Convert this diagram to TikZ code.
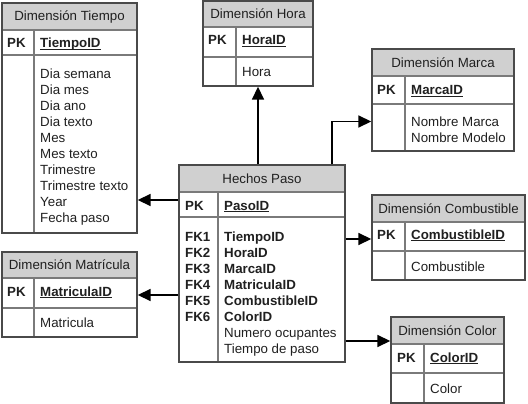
\documentclass[tikz,border=0pt]{standalone}
\usepackage{fontspec}
\setmainfont{Liberation Sans}
\usetikzlibrary{arrows.meta,fit}
\definecolor{hdrgray}{HTML}{D0D0D0}
\definecolor{bordergray}{HTML}{4A4A4A}
\definecolor{sepgray}{HTML}{7A7A7A}
\definecolor{txtgray}{HTML}{202020}
\newcommand\myul[1]{\setbox0\hbox{#1}\rlap{\rule[-2.3pt]{\wd0}{1.1pt}}\box0}
\newcommand\erbox[9]{%
  \fill[hdrgray] (#2,#3) rectangle (#4,#6);
  \draw[sepline] (#2,#6) -- (#4,#6) (#2,#7) -- (#4,#7) (#8,#6) -- (#8,#5);
  \node[boxnode, fit={(#2,#3) (#4,#5)}] (#1) {};
  \node[hdrtext] (#1-title) at ({(#2+#4)/2},{(#3+#6)/2}) {#9};
}
\begin{document}
\begin{tikzpicture}[x=1pt,y=-1pt,
  every node/.style={font=\fontsize{13.3}{16}\selectfont, text=txtgray},
  boxnode/.style={draw=bordergray, line width=1.4pt, inner sep=0pt, fill=none},
  sepline/.style={draw=sepgray, line width=1.4pt},
  hdrtext/.style={inner sep=0pt, anchor=center},
  txt/.style={inner sep=0pt, anchor=base west},
  keytxt/.style={txt, font=\fontsize{13.3}{16}\selectfont\bfseries},
  conn/.style={draw=black, line width=1.7pt, -{Triangle[length=13pt,width=12pt]}}]
\useasboundingbox (0,0) rectangle (528,404);
\fill[white] (0,0) rectangle (528,404);

% Dimension Tiempo
\erbox{tiempo}{2}{3}{137}{233}{30}{55}{34}{Dimensión Tiempo}
\node[keytxt] (tiempo-pk) at (7,48) {PK};
\node[keytxt] (tiempo-id) at (40,48) {\myul{TiempoID}};
\foreach \t [count=\i from 0] in {Dia semana,Dia mes,Dia ano,Dia texto,Mes,Mes texto,Trimestre,Trimestre texto,Year,Fecha paso}
  \node[txt] (tiempo-f\i) at (40,{78.5+16*\i}) {\t};

% Dimension Hora
\erbox{hora}{203}{1}{313}{86}{27}{57}{236}{Dimensión Hora}
\node[keytxt] (hora-pk) at (208,45) {PK};
\node[keytxt] (hora-id) at (242,45) {\myul{HoraID}};
\node[txt] (hora-f0) at (242,77) {Hora};

% Dimension Marca
\erbox{marca}{372}{49}{514}{151}{76}{104}{405}{Dimensión Marca}
\node[keytxt] (marca-pk) at (377,95) {PK};
\node[keytxt] (marca-id) at (411,95) {\myul{MarcaID}};
\node[txt] (marca-f0) at (411,126.5) {Nombre Marca};
\node[txt] (marca-f1) at (411,142.5) {Nombre Modelo};

% Hechos Paso
\erbox{hechos}{179}{165}{345}{362}{192}{217}{218}{Hechos Paso}
\node[keytxt] (hechos-pk) at (185,210) {PK};
\node[keytxt] (hechos-id) at (224,210) {\myul{PasoID}};
\foreach \k/\f [count=\i from 0] in {FK1/TiempoID,FK2/HoraID,FK3/MarcaID,FK4/MatriculaID,FK5/CombustibleID,FK6/ColorID}{
  \node[keytxt] (hechos-fk\i) at (185,{241.5+16*\i}) {\k};
  \node[keytxt] (hechos-ff\i) at (224,{241.5+16*\i}) {\f};
}
\node[txt] (hechos-a0) at (224,337.5) {Numero ocupantes};
\node[txt] (hechos-a1) at (224,353.5) {Tiempo de paso};

% Dimension Combustible
\erbox{comb}{372}{195}{525}{280}{222}{251}{405}{Dimensión Combustible}
\node[keytxt] (comb-pk) at (377,239) {PK};
\node[keytxt] (comb-id) at (411,239) {\myul{CombustibleID}};
\node[txt] (comb-f0) at (411,271) {Combustible};

% Dimension Matricula
\erbox{matr}{2}{252}{137}{337}{278}{308}{34}{Dimensión Matrícula}
\node[keytxt] (matr-pk) at (7,296) {PK};
\node[keytxt] (matr-id) at (40,296) {\myul{MatriculaID}};
\node[txt] (matr-f0) at (40,327) {Matricula};

% Dimension Color
\erbox{color}{391}{317}{504}{403}{344}{373}{424}{Dimensión Color}
\node[keytxt] (color-pk) at (397,362) {PK};
\node[keytxt] (color-id) at (430,362) {\myul{ColorID}};
\node[txt] (color-f0) at (430,393) {Color};

% connectors
\coordinate (yTiempo) at (0,200);
\coordinate (yMatr) at (0,295);
\coordinate (yComb) at (0,239);
\coordinate (yColor) at (0,341);
\coordinate (yMarca) at (0,121.5);
\coordinate (xHora) at (258,0);
\coordinate (xMarca) at (332,0);
\draw[conn] (hechos.west |- yTiempo) -- (tiempo.east |- yTiempo);
\draw[conn] (hechos.west |- yMatr) -- (matr.east |- yMatr);
\draw[conn] (hechos.east |- yComb) -- (comb.west |- yComb);
\draw[conn] (hechos.east |- yColor) -- (color.west |- yColor);
\draw[conn] (hechos.north -| xHora) -- (hora.south -| xHora);
\draw[conn] (hechos.north -| xMarca) |- (marca.west |- yMarca);
\end{tikzpicture}
\end{document}
